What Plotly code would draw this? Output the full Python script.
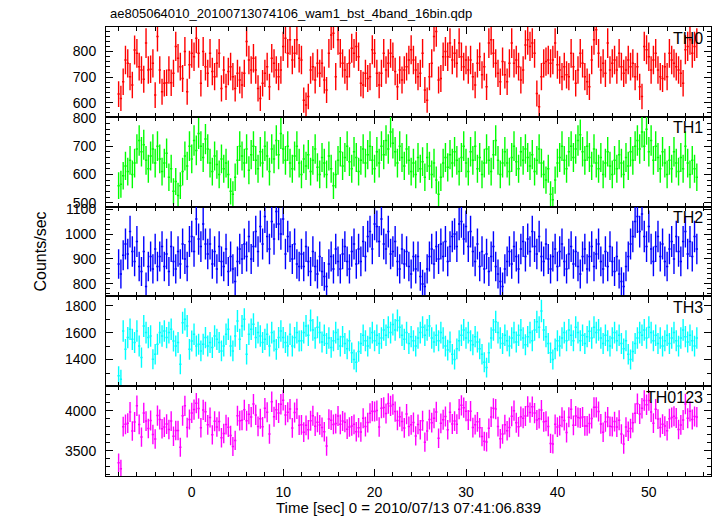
import numpy as np
import plotly.graph_objects as go
from plotly.subplots import make_subplots

# ---- time grid (bin centres, seconds) ----
T0 = -8.0
DT = 0.25

# ---- count rates (counts/sec) ----
th0 = [
    634, 617, 682, 767, 754, 702, 669, 806, 793, 741,
    728, 692, 833, 728, 731, 754, 630, 859, 728, 643,
    676, 678, 728, 678, 715, 820, 774, 741, 695,
    800, 643, 748, 793, 780, 852, 793, 676, 800, 741,
    715, 793, 722, 702, 754, 793, 656, 728, 662,
    722, 741, 702, 656, 715, 689, 669, 715, 839, 767,
    728, 774, 728, 656, 617, 676, 715, 741, 662, 774,
    754, 728, 702, 728, 820, 852, 793, 846, 767, 793, 846, 774,
    767, 610, 591, 624, 728, 741, 689, 754, 715, 754,
    689, 650, 793, 865, 872, 702, 846, 793, 754, 728,
    702, 754, 813, 793, 820, 780, 676, 669, 715,
    695, 702, 807, 793, 715, 669, 715, 793, 728, 754,
    793, 780, 722, 662, 728, 689, 728, 741, 767,
    807, 767, 728, 702, 715, 793, 650, 610, 702, 754,
    859, 878, 689, 695, 780, 800, 780, 833, 767, 793,
    754, 833, 780, 741, 767, 728, 767, 702, 669,
    754, 780, 709, 741, 662, 833, 846, 793, 754, 715,
    682, 761, 709, 682, 754, 833, 754, 767, 741, 689,
    728, 826, 846, 820, 833, 793, 636, 584, 702, 754,
    761, 767, 754, 767, 833, 748, 728, 702, 741, 709,
    702, 793, 741, 676, 728, 793, 754, 702, 682, 662,
    767, 846, 885, 793, 728, 754, 715, 833, 728,
    754, 767, 728, 793, 741, 715, 728, 767, 741, 754,
    702, 741, 662, 624, 820, 807, 780, 728, 767, 793,
    728, 702, 695, 741, 702, 793, 767, 754, 741, 728,
    715, 676, 807, 820, 846, 793, 820, 833,
]

th1 = [
    560, 565, 595, 630, 610, 650, 600, 640, 690, 720,
    680, 705, 650, 620, 665, 690, 640, 700, 655, 610,
    640, 675, 590, 620, 540, 575, 525, 560, 610, 665,
    630, 700, 655, 720, 685, 745, 700, 660, 725, 690,
    640, 610, 665, 635, 600, 655, 620, 640, 600, 540,
    530, 590, 650, 700, 665, 640, 690, 615, 670, 700,
    650, 620, 680, 640, 700, 665, 610, 690, 655, 720,
    670, 745, 690, 650, 700, 640, 620, 665, 700, 640,
    600, 655, 630, 670, 610, 650, 690, 625, 600, 660,
    640, 600, 665, 620, 560, 600, 650, 680, 630, 660,
    700, 645, 620, 680, 660, 610, 650, 690, 640, 670,
    700, 650, 620, 680, 640, 700, 670, 720, 690, 750,
    710, 680, 640, 700, 660, 630, 690, 650, 610, 640,
    600, 660, 620, 645, 590, 660, 630, 600, 640, 580,
    530, 590, 640, 660, 625, 670, 640, 680, 650, 610,
    660, 700, 640, 610, 680, 650, 700, 620, 660, 600,
    640, 690, 650, 610, 670, 720, 650, 600, 640, 680,
    640, 610, 660, 700, 645, 620, 680, 650, 690, 660,
    630, 670, 610, 650, 690, 640, 600, 580, 620, 530,
    510, 580, 640, 660, 700, 650, 620, 680, 700, 660,
    690, 720, 740, 680, 650, 700, 660, 630, 690, 640,
    620, 660, 600, 640, 680, 630, 600, 650, 620, 670,
    640, 600, 660, 630, 680, 650, 700, 720, 690, 750,
    700, 760, 680, 720, 650, 700, 660, 620, 680, 640,
    600, 650, 620, 680, 640, 610, 660, 620, 700, 640,
    600, 650, 620, 590,
]

th2 = [
    880, 840, 915, 960, 920, 1010, 930, 890, 970, 870,
    850, 930, 790, 870, 910, 860, 940, 870, 910, 950,
    870, 920, 850, 950, 890, 860, 930, 880, 960, 900,
    870, 970, 990, 930, 1060, 980, 950, 1040, 960, 920,
    960, 880, 930, 860, 950, 890, 870, 940, 850, 910,
    860, 810, 890, 940, 900, 960, 910, 990, 900, 950,
    1010, 930, 1030, 960, 1070, 990, 940, 1050, 980, 1090,
    1040, 1000, 1060, 920, 990, 950, 900, 960, 880, 870,
    920, 870, 950, 890, 850, 930, 870, 840, 910, 850,
    830, 790, 880, 910, 860, 940, 890, 860, 920, 950,
    890, 860, 930, 960, 880, 940, 890, 970, 910, 990,
    1010, 940, 1040, 1030, 970, 1060, 960, 940, 1010, 920,
    930, 970, 890, 860, 940, 880, 930, 870, 840, 910,
    860, 910, 830, 800, 790, 860, 910, 940, 880, 950,
    900, 960, 910, 970, 890, 950, 990, 1000, 950, 1040,
    1050, 980, 1030, 950, 1010, 930, 890, 960, 870, 930,
    860, 920, 850, 910, 950, 870, 840, 810, 790, 860,
    890, 930, 880, 950, 910, 860, 940, 970, 910, 980,
    930, 1010, 950, 920, 990, 910, 890, 960, 900, 860,
    910, 940, 870, 930, 960, 890, 860, 920, 950, 880,
    930, 870, 840, 910, 940, 860, 910, 950, 870, 920,
    960, 890, 860, 930, 870, 950, 890, 850, 910, 840,
    810, 790, 870, 910, 960, 990, 1050, 1070, 1010, 1080,
    990, 950, 1030, 940, 890, 950, 990, 910, 960, 890,
    870, 940, 970, 900, 990, 930, 890, 970, 1010, 920,
    970, 910, 990, 940,
]

th3 = [
    1279, 1254, 1612, 1476, 1563, 1625, 1550, 1526, 1612, 1501,
    1415, 1649, 1600, 1563, 1575, 1402, 1439, 1513, 1600, 1575,
    1612, 1563, 1600, 1625, 1538, 1501, 1526, 1365, 1674, 1699,
    1649, 1476, 1538, 1588, 1501, 1513, 1464, 1513, 1563, 1501,
    1526, 1489, 1575, 1550, 1526, 1464, 1501, 1588, 1625, 1501,
    1464, 1575, 1686, 1550, 1649, 1699, 1439, 1588, 1625, 1662,
    1563, 1600, 1575, 1526, 1550, 1588, 1501, 1600, 1538, 1476,
    1563, 1612, 1563, 1526, 1501, 1588, 1501, 1563, 1600, 1538,
    1540, 1600, 1650, 1580, 1690, 1620, 1560, 1640, 1600, 1530,
    1580, 1520, 1560, 1490, 1540, 1600, 1550, 1500, 1570, 1520,
    1480, 1540, 1450, 1400, 1380, 1460, 1520, 1580, 1540, 1500,
    1560, 1600, 1540, 1580, 1520, 1560, 1620, 1580, 1640, 1600,
    1660, 1620, 1690, 1640, 1580, 1550, 1600, 1520, 1570, 1540,
    1500, 1560, 1600, 1640, 1580, 1620, 1650, 1560, 1530, 1580,
    1540, 1600, 1560, 1500, 1470, 1530, 1440, 1400, 1480, 1540,
    1580, 1620, 1560, 1600, 1540, 1510, 1570, 1530, 1480, 1440,
    1380, 1340, 1450, 1560, 1620, 1680, 1600, 1560, 1520, 1580,
    1540, 1500, 1560, 1600, 1530, 1580, 1620, 1560, 1510, 1570,
    1600, 1540, 1620, 1680, 1640, 1760, 1620, 1570, 1520, 1450,
    1400, 1480, 1540, 1500, 1560, 1600, 1540, 1620, 1580, 1540,
    1640, 1600, 1540, 1580, 1520, 1570, 1610, 1560, 1640, 1600,
    1620, 1560, 1520, 1580, 1540, 1500, 1560, 1600, 1540, 1580,
    1520, 1480, 1540, 1440, 1400, 1460, 1520, 1560, 1600, 1580,
    1620, 1560, 1640, 1600, 1540, 1580, 1520, 1560, 1500, 1540,
    1580, 1520, 1560, 1600, 1540, 1500, 1560, 1620, 1570, 1530,
    1580, 1540, 1500, 1560,
]

labels = ["TH0", "TH1", "TH2", "TH3", "TH0123"]
colors = ["#ff0000", "#00ff00", "#0000ff", "#00ffff", "#ff00ff"]
y_ranges = [[545, 896], [486, 804], [750, 1110], [1202, 1869], [3186, 4310]]
y_dticks = [100, 100, 100, 200, 500]
y_minor = [20, 20, 20, 100, 100]

n = min(len(th0), len(th1), len(th2), len(th3))
time = T0 + DT * np.arange(n)
a0 = np.array(th0[:n], float)
a1 = np.array(th1[:n], float)
a2 = np.array(th2[:n], float)
a3 = np.array(th3[:n], float)
a_sum = a0 + a1 + a2 + a3  # TH0123 is the sum of the four bands
series = [a0, a1, a2, a3, a_sum]

FONT = "Liberation Sans, Arial, Helvetica, sans-serif"

fig = make_subplots(rows=5, cols=1, shared_xaxes=True, vertical_spacing=0)

for i, (vals, col) in enumerate(zip(series, colors)):
    err = np.sqrt(vals * DT) / DT  # Poisson error of the binned rate
    fig.add_trace(
        go.Scatter(
            x=time, y=vals, mode="markers",
            marker=dict(size=1, color="rgba(0,0,0,0)"),
            error_x=dict(type="constant", value=DT / 2, width=0, thickness=1.5, color=col),
            error_y=dict(type="data", array=err, width=0, thickness=1.4, color=col),
            showlegend=False, hoverinfo="skip",
        ),
        row=i + 1, col=1,
    )

axis_common = dict(
    showline=True, linecolor="black", linewidth=1, mirror="allticks",
    ticks="inside", tickcolor="black", tickwidth=1, ticklen=7,
    showgrid=False, zeroline=False,
    tickfont=dict(family=FONT, size=14, color="black"),
)

for i in range(5):
    fig.update_xaxes(
        range=[-9.38, 56.8], tick0=0, dtick=10,
        minor=dict(dtick=2, ticklen=4, ticks="inside", tickcolor="black", showgrid=False),
        showticklabels=(i == 4), ticklabelstandoff=3,
        row=i + 1, col=1, **axis_common,
    )
    fig.update_yaxes(
        range=y_ranges[i], dtick=y_dticks[i], tick0=0,
        minor=dict(dtick=y_minor[i], ticklen=4, ticks="inside", tickcolor="black", showgrid=False),
        ticklabelstandoff=6,
        row=i + 1, col=1, **axis_common,
    )

# plot area geometry helpers
H_PLOT = 516 - 27 - 40
W_PLOT = 717 - 106 - 6

annotations = []
for i, lab in enumerate(labels):
    top = 1 - i / 5
    annotations.append(dict(
        text=lab, xref="paper", yref="paper",
        x=1 - 6 / W_PLOT, y=top - 11 / H_PLOT,
        xanchor="right", yanchor="middle", showarrow=False,
        font=dict(family=FONT, size=16, color="black"),
    ))

annotations.append(dict(
    text="ae805064010_20100713074106_wam1_bst_4band_16bin.qdp",
    xref="paper", yref="paper", x=2 / W_PLOT, y=1 + 14 / H_PLOT,
    xanchor="left", yanchor="middle", showarrow=False,
    font=dict(family=FONT, size=13, color="black"),
))
annotations.append(dict(
    text="Counts/sec", xref="paper", yref="paper",
    x=-66 / W_PLOT, y=0.5, textangle=-90,
    xanchor="center", yanchor="middle", showarrow=False,
    font=dict(family=FONT, size=16, color="black"),
))
annotations.append(dict(
    text="Time [sec] 0 = 2010/07/13 07:41:06.839", xref="paper", yref="paper",
    x=0.5, y=-31 / H_PLOT, borderpad=0,
    xanchor="center", yanchor="middle", showarrow=False,
    font=dict(family=FONT, size=15, color="black"),
))

fig.update_layout(
    width=717, height=516,
    margin=dict(l=106, r=6, t=27, b=40),
    paper_bgcolor="white", plot_bgcolor="white",
    font=dict(family=FONT, size=14, color="black"),
    annotations=annotations,
    showlegend=False,
)

fig.write_html(
    "out.html",
    config={"displayModeBar": False},
    post_script="document.body.style.margin='0';document.body.style.padding='0';",
)
